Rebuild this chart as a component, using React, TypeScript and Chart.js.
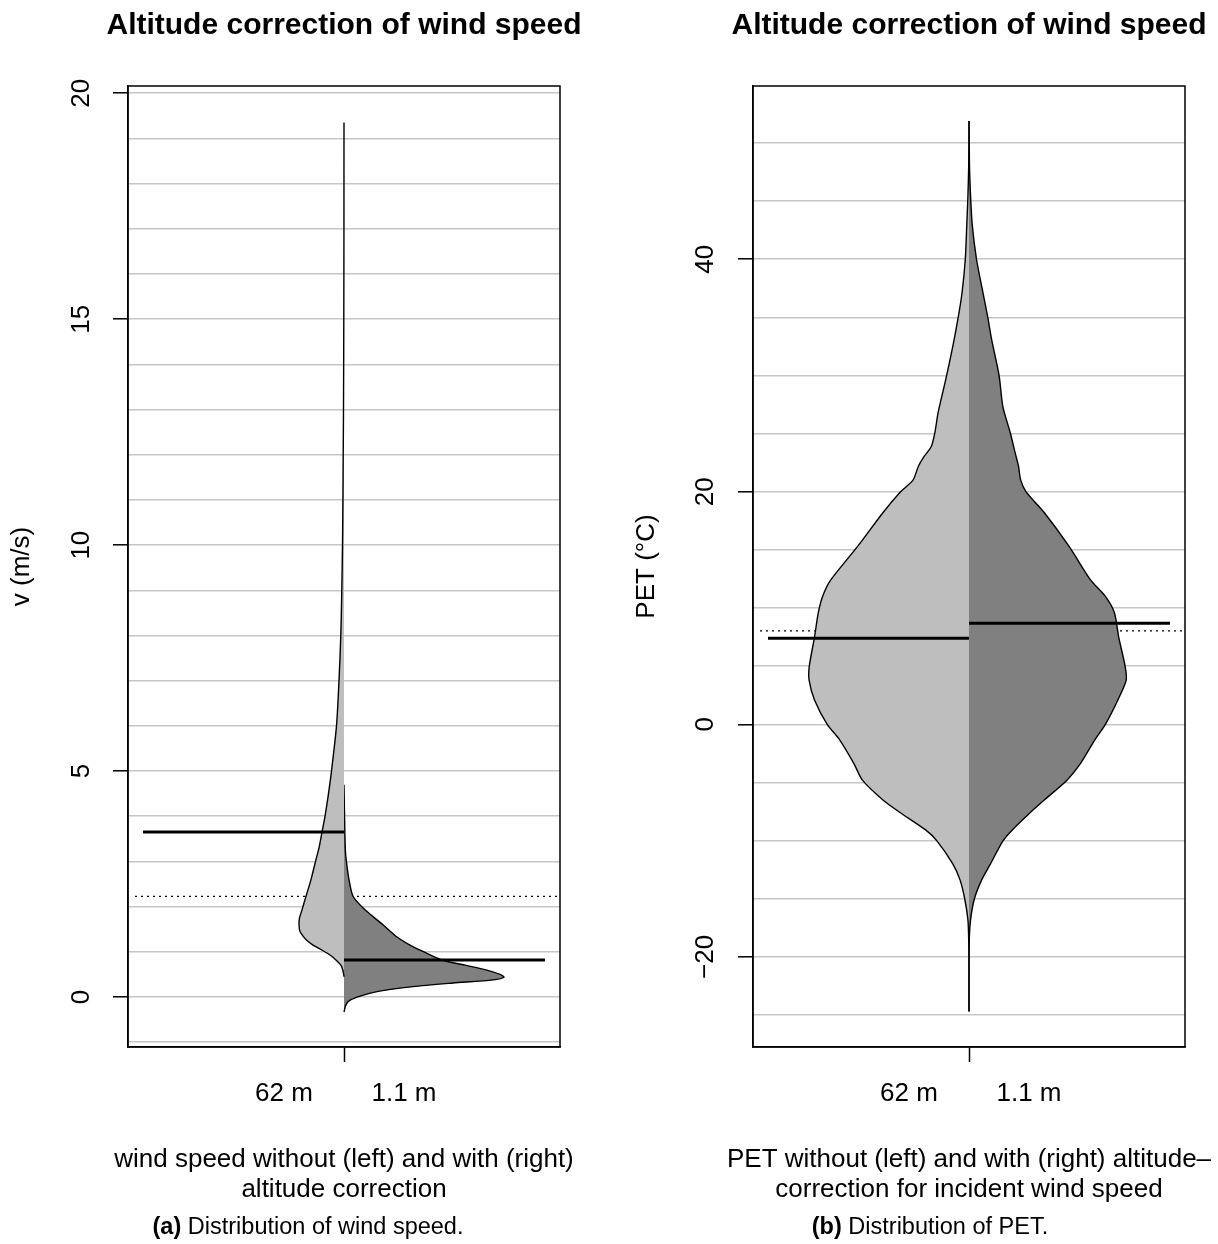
import React, { useEffect, useRef } from "react";
import { Chart, registerables } from "chart.js";

Chart.register(...registerables);

const FONT = "'Liberation Sans', Arial, Helvetica, sans-serif";

// ---------- shared ----------
const sideNames = ["62 m", "1.1 m"];

// ---------- panel (a): wind speed ----------
const windTitle = "Altitude correction of wind speed";
const windYLabel = "v (m/s)";
const windXTitle = ["wind speed without (left) and with (right)", "altitude correction"];
const windCaptionTag = "(a)";
const windCaption = "Distribution of wind speed.";
const windGrid = [-1, 0, 1, 2, 3, 4, 5, 6, 7, 8, 9, 10, 11, 12, 13, 14, 15, 16, 17, 18, 19, 20];
const windTickLabels = [0, 5, 10, 15, 20];
// 62 m (left half): value and half-width of the bean
const wind62Y = [19.35, 17, 15, 13, 12, 11, 10, 9, 8, 7, 6, 5, 4.5, 4, 3.65, 3.3, 3.0, 2.6, 2.23, 1.93, 1.75, 1.6, 1.45, 1.35, 1.25, 1.15, 1.05, 0.93, 0.8, 0.7, 0.6, 0.5, 0.45];
const wind62W = [0, 0.05, 0.2, 0.5, 0.8, 1.1, 1.5, 2.2, 3.2, 5, 7.5, 12.5, 15.5, 19, 22, 25, 28.5, 33, 38, 42, 44.5, 45, 44, 41, 37, 31, 23, 14, 7, 3, 1.2, 0.3, 0];
// 1.1 m (right half)
const wind11Y = [4.7, 4.2, 3.6, 3.2, 2.9, 2.6, 2.23, 1.93, 1.6, 1.33, 1.15, 1.0, 0.82, 0.7, 0.6, 0.5, 0.44, 0.38, 0.31, 0.23, 0.12, 0.0, -0.1, -0.2, -0.33];
const wind11W = [0, 0.4, 0.9, 1.5, 3, 5, 9, 21, 39, 53, 66, 80, 98, 122, 142, 156, 160, 149, 109, 69, 33, 13, 4, 1.5, 0];
const windMeans = [3.65, 0.82];
const windOverallMean = 2.23;

// ---------- panel (b): PET ----------
const petTitle = "Altitude correction of wind speed";
const petYLabel = "PET (°C)";
const petXTitle = ["PET without (left) and with (right) altitude–", "correction for incident wind speed"];
const petCaptionTag = "(b)";
const petCaption = "Distribution of PET.";
const petGrid = [-25, -20, -15, -10, -5, 0, 5, 10, 15, 20, 25, 30, 35, 40, 45, 50];
const petTickLabels = [-20, 0, 20, 40];
const pet62Y = [51.9, 48, 45.4, 43, 40, 37.1, 35, 32.5, 29.6, 26.8, 25.1, 23.9, 23, 22.2, 21, 20, 18.2, 15.3, 12.4, 11, 9.6, 7.5, 5, 3.8, 2.1, 0, -1.35, -3.4, -4.8, -6.5, -7.6, -9.1, -10, -12, -13.4, -15, -16.8, -18.5, -21, -24.7];
const pet62W = [0, 0.3, 1.1, 2.2, 3.7, 7, 10.8, 16.2, 23.4, 30.9, 34.1, 37.7, 45.2, 50.6, 56, 68.4, 86.1, 111.4, 138.4, 146.4, 150.7, 154.5, 159.7, 159.9, 154.5, 141.8, 129.2, 114.9, 106.6, 86.1, 68.6, 43.1, 32.3, 16.2, 8.9, 4.3, 1.1, 0.3, 0.05, 0];
const pet11Y = [51.9, 48, 45.4, 43, 40, 37.1, 35, 33.1, 30, 27.3, 25.1, 23.3, 22.2, 21, 20, 18.2, 15.3, 12.4, 11, 9.6, 7.5, 5, 3.8, 2.1, 0, -1.35, -3.4, -4.8, -6.5, -7.6, -9.1, -10, -12, -13.4, -15, -16.8, -18.5, -21, -24.7];
const pet11W = [0, 0.5, 1.6, 3.2, 7.5, 14, 18.8, 22.6, 30.1, 33.9, 41.2, 46.3, 49.5, 51.7, 57.1, 75.4, 100.1, 121.7, 136.4, 145.4, 149.7, 156.1, 157.2, 148.9, 136.4, 125.7, 111.2, 98, 75.4, 61.1, 43.1, 34.1, 21.5, 12.6, 5.4, 1.6, 0.3, 0.05, 0];
const petMeans = [7.4, 8.69];
const petOverallMean = 8.03;

const fmt = (v: number) => (v < 0 ? "\u2212" + Math.abs(v) : String(v));

const framePlugin = {
  id: "frame",
  afterDatasetsDraw(chart: any) {
    const { ctx, chartArea: a } = chart;
    ctx.save();
    ctx.strokeStyle = "#000";
    ctx.lineWidth = 1.5;
    ctx.strokeRect(a.left, a.top, a.right - a.left, a.bottom - a.top);
    ctx.restore();
  },
};

// main title and two-line x title, centred on the plot region (not squeezed)
const textPlugin = {
  id: "panelText",
  afterDraw(chart: any, _args: any, opts: any) {
    const { ctx, chartArea: a } = chart;
    const cx = (a.left + a.right) / 2;
    ctx.save();
    ctx.fillStyle = "#000";
    ctx.textAlign = "center";
    ctx.textBaseline = "alphabetic";
    ctx.font = `bold 30px ${FONT}`;
    ctx.fillText(opts.title, cx, a.top - 52.5);
    ctx.font = `26px ${FONT}`;
    (opts.xTitle as string[]).forEach((t, i) => ctx.fillText(t, cx, a.bottom + 120 + 30 * i));
    ctx.restore();
  },
};

type PanelProps = {
  left: number;
  title: string;
  yLabel: string;
  xTitle: string[];
  grid: number[];
  tickLabels: number[];
  yMin: number;
  yMax: number;
  leftY: number[];
  leftW: number[];
  rightY: number[];
  rightW: number[];
  means: number[];
  overall: number;
  tickPad: number;
};

const X_HALF = 216;
const LABEL_OFFSET = 60;
const MEAN_LEN = 201;
const DOT_FROM = -209;

function BeanPanel(p: PanelProps) {
  const ref = useRef<HTMLCanvasElement>(null);
  useEffect(() => {
    if (!ref.current) return;
    Chart.defaults.font.family = FONT;
    Chart.defaults.color = "#000";
    const line = { showLine: true, pointRadius: 0, pointHoverRadius: 0, fill: false, borderColor: "#000" };
    const chart = new Chart(ref.current, {
      type: "scatter",
      data: {
        datasets: [
          { ...line, data: [{ x: -MEAN_LEN, y: p.means[0] }, { x: 0, y: p.means[0] }], borderWidth: 3, order: 0 },
          { ...line, data: [{ x: 0, y: p.means[1] }, { x: MEAN_LEN, y: p.means[1] }], borderWidth: 3, order: 0 },
          {
            ...line,
            data: p.leftY.map((y, i) => ({ x: -p.leftW[i], y })),
            fill: "shape",
            backgroundColor: "#BEBEBE",
            borderWidth: 1.4,
            tension: 0.25,
            order: 1,
          },
          {
            ...line,
            data: p.rightY.map((y, i) => ({ x: p.rightW[i], y })),
            fill: "shape",
            backgroundColor: "#808080",
            borderWidth: 1.4,
            tension: 0.25,
            order: 1,
          },
          {
            ...line,
            data: [{ x: DOT_FROM, y: p.overall }, { x: X_HALF, y: p.overall }],
            borderWidth: 1.3,
            borderDash: [2, 4],
            order: 2,
          },
        ] as any,
      },
      options: {
        responsive: false,
        animation: false,
        devicePixelRatio: 1,
        events: [],
        layout: { padding: { left: 0, right: 40, top: 86, bottom: 41 } },
        plugins: {
          legend: { display: false },
          tooltip: { enabled: false },
          title: { display: false },
          panelText: { title: p.title, xTitle: p.xTitle },
        },
        scales: {
          x: {
            type: "linear",
            min: -X_HALF,
            max: X_HALF,
            afterBuildTicks: (s: any) => {
              s.ticks = [{ value: -LABEL_OFFSET }, { value: 0 }, { value: LABEL_OFFSET }];
            },
            afterFit: (s: any) => {
              s.height = 156;
            },
            grid: {
              drawOnChartArea: false,
              drawTicks: true,
              tickLength: 15,
              tickWidth: 1.5,
              tickColor: (c: any) => (c.tick && c.tick.value === 0 ? "#000" : "rgba(0,0,0,0)"),
            },
            border: { display: true, color: "#000", width: 1.5 },
            ticks: {
              autoSkip: false,
              maxRotation: 0,
              padding: 16,
              color: "#000",
              font: { family: FONT, size: 26 },
              callback: (v: any) => (v < 0 ? sideNames[0] : v > 0 ? sideNames[1] : ""),
            },
            title: { display: false },
          },
          y: {
            type: "linear",
            min: p.yMin,
            max: p.yMax,
            afterBuildTicks: (s: any) => {
              s.ticks = p.grid.map((v) => ({ value: v }));
            },
            afterFit: (s: any) => {
              s.width = 128;
            },
            grid: {
              drawOnChartArea: true,
              color: "#C6C6C6",
              lineWidth: 1.6,
              drawTicks: true,
              tickLength: 15,
              tickWidth: 1.5,
              tickColor: (c: any) => (c.tick && p.tickLabels.includes(c.tick.value) ? "#000" : "rgba(0,0,0,0)"),
            },
            border: { display: true, color: "#000", width: 1.5 },
            ticks: {
              autoSkip: false,
              minRotation: 90,
              maxRotation: 90,
              crossAlign: "center",
              padding: p.tickPad,
              color: "#000",
              font: { family: FONT, size: 26 },
              callback: (v: any) => (p.tickLabels.includes(v) ? fmt(v) : ""),
            },
            title: {
              display: true,
              text: p.yLabel,
              color: "#000",
              font: { family: FONT, size: 26 },
              padding: { top: 6.4, bottom: 0 },
            },
          },
        },
      } as any,
      plugins: [framePlugin, textPlugin],
    });
    return () => chart.destroy();
  }, []);
  return (
    <canvas
      ref={ref}
      width={600}
      height={1244}
      style={{ position: "absolute", left: p.left, top: 0, width: 600, height: 1244 }}
    />
  );
}

function Caption({ center, tag, text }: { center: number; tag: string; text: string }) {
  return (
    <div
      style={{
        position: "absolute",
        left: center - 250,
        width: 500,
        top: 1214,
        textAlign: "center",
        fontFamily: FONT,
        fontSize: 23.5,
        lineHeight: "24px",
        color: "#000",
        whiteSpace: "nowrap",
      }}
    >
      <b>{tag}</b> {text}
    </div>
  );
}

export default function App() {
  return (
    <div style={{ position: "absolute", left: 0, top: 0, width: 1218, height: 1244, background: "#fff", overflow: "hidden" }}>
      <BeanPanel
        left={0}
        title={windTitle}
        yLabel={windYLabel}
        xTitle={windXTitle}
        grid={windGrid}
        tickLabels={windTickLabels}
        yMin={-1.105}
        yMax={20.16}
        leftY={wind62Y}
        leftW={wind62W}
        rightY={wind11Y}
        rightW={wind11W}
        means={windMeans}
        overall={windOverallMean}
        tickPad={16.5}
      />
      <BeanPanel
        left={625}
        title={petTitle}
        yLabel={petYLabel}
        xTitle={petXTitle}
        grid={petGrid}
        tickLabels={petTickLabels}
        yMin={-27.75}
        yMax={54.9}
        leftY={pet62Y}
        leftW={pet62W}
        rightY={pet11Y}
        rightW={pet11W}
        means={petMeans}
        overall={petOverallMean}
        tickPad={10}
      />
      <Caption center={308} tag={windCaptionTag} text={windCaption} />
      <Caption center={930} tag={petCaptionTag} text={petCaption} />
    </div>
  );
}
